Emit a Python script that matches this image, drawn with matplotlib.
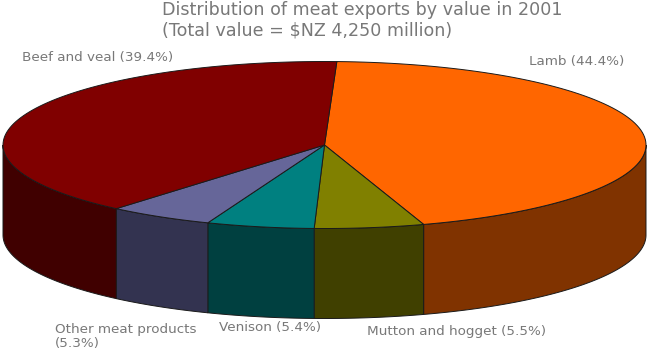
import numpy as np
import matplotlib
matplotlib.use('Agg')
import matplotlib.pyplot as plt
from matplotlib.patches import Polygon

# Clockwise from just right of the top of the pie
labels = ['Lamb', 'Mutton and hogget', 'Venison', 'Other meat products', 'Beef and veal']
shares = [44.4, 5.5, 5.4, 5.3, 39.4]
top_colors = ['#ff6600', '#808000', '#008080', '#666699', '#800000']
side_colors = ['#803300', '#404000', '#004040', '#333350', '#400000']

start_angle = 2.2
cx, cy, rx, ry, depth = 324.5, 145, 321.5, 83.5, 90
edge = '#1a1a1a'
grey = '#787878'


def rim(a0, a1, drop=0):
    t = np.radians(np.linspace(a0, a1, 100))
    return np.column_stack([cx + rx * np.sin(t), cy - ry * np.cos(t) + drop])


fig = plt.figure(figsize=(6.5, 3.54), dpi=100)
ax = fig.add_axes([0, 0, 1, 1])
ax.set_xlim(0, 650)
ax.set_ylim(354, 0)
ax.axis('off')

# Turn the shares into angles
stops = start_angle + np.cumsum([0] + shares) * 3.6

# Side walls, only the part facing the viewer (90 to 270 degrees)
for a0, a1, c in zip(stops[:-1], stops[1:], side_colors):
    lo, hi = max(a0, 90), min(a1, 270)
    if lo >= hi:
        continue
    pts = np.vstack([rim(lo, hi), rim(lo, hi, depth)[::-1]])
    ax.add_patch(Polygon(pts, closed=True, fc=c, ec=edge, lw=0.7))

# Top of the pie
for a0, a1, c in zip(stops[:-1], stops[1:], top_colors):
    pts = np.vstack([[cx, cy], rim(a0, a1)])
    ax.add_patch(Polygon(pts, closed=True, fc=c, ec=edge, lw=0.7))

ax.text(162, 15, 'Distribution of meat exports by value in 2001', color=grey,
        fontsize=12.6, va='baseline', ha='left')
ax.text(162, 36, r'(Total value = \$NZ 4,250 million)', color=grey,
        fontsize=12.6, va='baseline', ha='left')

label_pos = {'Lamb': (529, 61), 'Mutton and hogget': (367, 331), 'Venison': (219, 328),
             'Other meat products': (55, 336), 'Beef and veal': (22, 58)}
for name, share in zip(labels, shares):
    x, y = label_pos[name]
    sep = '\n' if name == 'Other meat products' else ' '
    ax.text(x, y, f'{name}{sep}({share}%)', color=grey, fontsize=9.7,
            va='center', ha='left', linespacing=1.1)

fig.savefig('out.png', dpi=100)
